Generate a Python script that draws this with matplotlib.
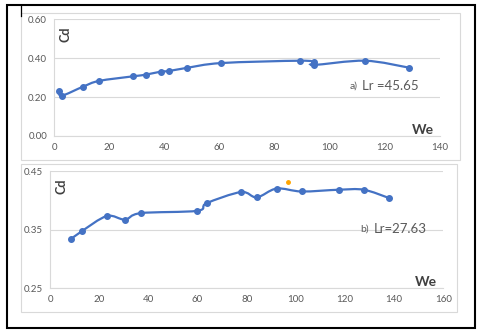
import numpy as np
import matplotlib
matplotlib.use('Agg')
import matplotlib.pyplot as plt
from matplotlib.path import Path
from matplotlib.patches import PathPatch, Rectangle
from matplotlib.lines import Line2D

plt.rcParams['font.family'] = ['Lato', 'DejaVu Sans']

# a) Lr = 45.65
we_a = [1.9, 2.8, 10.6, 16.3, 28.8, 33.2, 38.8, 41.7, 48.1, 60.7, 89.2, 94.2, 94.2, 112.8, 128.9]
cd_a = [0.233, 0.207, 0.254, 0.283, 0.307, 0.315, 0.331, 0.334, 0.350, 0.375, 0.387, 0.379, 0.365, 0.387, 0.351]

# b) Lr = 27.63
we_b = [8.4, 12.9, 23.1, 30.5, 36.9, 59.9, 63.7, 77.7, 84.1, 92.2, 102.4, 117.5, 127.6, 137.8]
cd_b = [0.333, 0.347, 0.373, 0.367, 0.378, 0.382, 0.395, 0.414, 0.405, 0.420, 0.415, 0.418, 0.418, 0.404]

# stray orange marker in panel b
stray_we = [96.8]
stray_cd = [0.432]

BLUE = '#4472C4'
GREY = '#595959'
GRID = '#D9D9D9'


def smooth_path(x, y):
    # excel style smoothed line, bezier through every point
    p = np.column_stack([x, y]).astype(float)
    n = len(p)
    verts = [p[0]]
    codes = [Path.MOVETO]
    for i in range(n - 1):
        p0 = p[max(i - 1, 0)]
        p1 = p[i]
        p2 = p[i + 1]
        p3 = p[min(i + 2, n - 1)]
        verts += [p1 + (p2 - p0) / 6, p2 - (p3 - p1) / 6, p2]
        codes += [Path.CURVE4] * 3
    return Path(verts, codes)


def panel(ax, x, y, xmax, ylim, yticks):
    ax.add_patch(PathPatch(smooth_path(x, y), fill=False, ec=BLUE, lw=1.6,
                           transform=ax.transData, zorder=3))
    ax.plot(x, y, 'o', color=BLUE, ms=4, zorder=4)
    ax.set_xlim(0, xmax)
    ax.set_ylim(*ylim)
    ax.set_xticks(np.arange(0, xmax + 1, 20))
    ax.set_yticks(yticks)
    ax.set_yticklabels(['%.2f' % v for v in yticks])
    ax.grid(axis='y', color=GRID, lw=0.8)
    for s in ['top', 'right']:
        ax.spines[s].set_visible(False)
    for s in ['left', 'bottom']:
        ax.spines[s].set_color(GRID)
        ax.spines[s].set_linewidth(0.8)
    ax.tick_params(length=0, labelsize=7, colors=GREY, pad=5)
    ax.set_axisbelow(True)
    ax.text(0.03, 0.87, 'Cd', transform=ax.transAxes, rotation=90,
            fontsize=9, fontweight='bold', color='#404040', ha='center', va='center')
    ax.text(0.955, 0.05, 'We', transform=ax.transAxes,
            fontsize=10, fontweight='bold', color='#404040', ha='center', va='center')


fig = plt.figure(figsize=(4.8, 3.32), dpi=100)

ax1 = fig.add_axes([0.1125, 0.5904, 0.804, 0.3515])
panel(ax1, we_a, cd_a, 140, (0, 0.6), [0, 0.2, 0.4, 0.6])
ax1.text(0.765, 0.43, 'a)', transform=ax1.transAxes, fontsize=7.5, color=GREY,
         ha='left', va='center')
ax1.text(0.797, 0.43, 'Lr =45.65', transform=ax1.transAxes, fontsize=9.5,
         color=GREY, ha='left', va='center')

ax2 = fig.add_axes([0.1042, 0.1325, 0.8194, 0.3524])
panel(ax2, we_b, cd_b, 160, (0.25, 0.45), [0.25, 0.35, 0.45])
ax2.plot(stray_we, stray_cd, 'o', color='#FFA500', ms=2.5, zorder=4)
ax2.text(0.79, 0.505, 'b)', transform=ax2.transAxes, fontsize=7.5, color=GREY,
         ha='left', va='center')
ax2.text(0.822, 0.505, 'Lr=27.63', transform=ax2.transAxes, fontsize=9.5,
         color=GREY, ha='left', va='center')

# chart area boxes and outer frame (pixel coords -> figure fraction)
W, H = 480.0, 332.0


def box(x0, y0, x1, y1, **kw):
    fig.patches.append(Rectangle((x0 / W, 1 - y1 / H), (x1 - x0) / W, (y1 - y0) / H,
                                 transform=fig.transFigure, fill=False, **kw))


box(20.7, 13.3, 460, 160, ec='#D9D9D9', lw=0.8)
box(20.7, 164.3, 457, 311.7, ec='#D9D9D9', lw=0.8)
box(6.5, 4.5, 475, 327.5, ec='black', lw=1.5)
fig.lines.append(Line2D([20.7 / W, 20.7 / W], [1 - 4.5 / H, 1 - 15.5 / H],
                        transform=fig.transFigure, color='black', lw=0.9))

fig.savefig('out.png', dpi=100)
